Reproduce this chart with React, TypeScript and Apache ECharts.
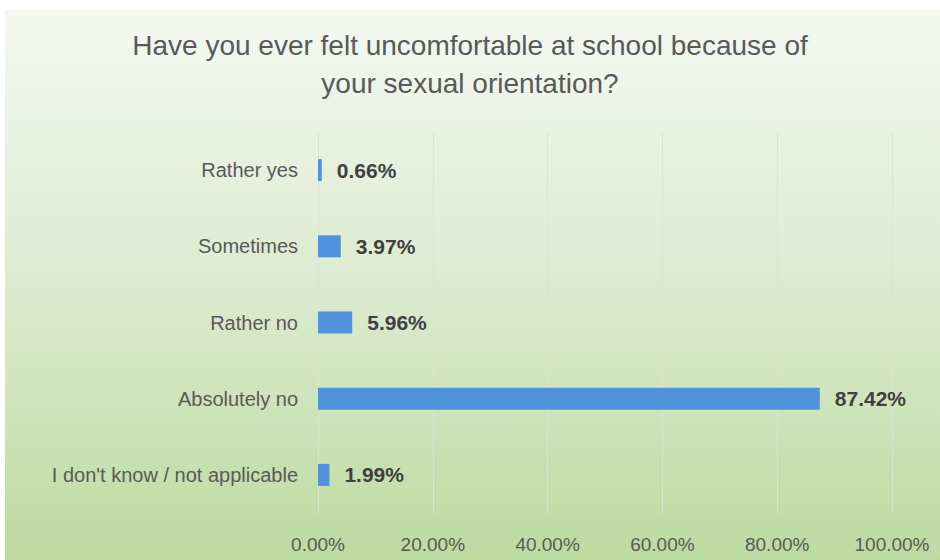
import React, { useEffect, useRef } from "react";
import * as echarts from "echarts";

const categories = [
  "Rather yes",
  "Sometimes",
  "Rather no",
  "Absolutely no",
  "I don't know / not applicable",
];
const values = [0.66, 3.97, 5.96, 87.42, 1.99];
const titleText = "Have you ever felt uncomfortable at school because of\nyour sexual orientation?";

export default function App() {
  const ref = useRef<HTMLDivElement>(null);
  useEffect(() => {
    if (!ref.current) return;
    const chart = echarts.init(ref.current, null, { renderer: "svg" });
    chart.setOption({
      animation: false,
      graphic: [
        {
          type: "rect",
          z: -10,
          silent: true,
          shape: { x: 5, y: 10, width: 935, height: 550 },
          style: {
            fill: new echarts.graphic.LinearGradient(0, 0, 0, 1, [
              { offset: 0, color: "#f5f8f1" },
              { offset: 0.5, color: "#dcebcf" },
              { offset: 1, color: "#bcdaa0" },
            ]),
          },
        },
      ],
      title: {
        text: titleText,
        left: "center",
        top: 21,
        textStyle: {
          fontFamily: "Liberation Sans",
          fontWeight: "normal",
          fontSize: 28,
          lineHeight: 38,
          color: "#595959",
        },
      },
      grid: { left: 318, right: 48, top: 132, bottom: 47 },
      xAxis: {
        type: "value",
        min: 0,
        max: 100,
        interval: 20,
        axisLine: { show: false },
        axisTick: { show: false },
        splitLine: { lineStyle: { color: "rgba(220,226,214,0.9)", width: 1 } },
        axisLabel: {
          formatter: (v: number) => v.toFixed(2) + "%",
          color: "#595959",
          fontFamily: "Liberation Sans",
          fontSize: 19,
          margin: 22,
        },
      },
      yAxis: {
        type: "category",
        data: categories,
        inverse: true,
        axisLine: { show: true, lineStyle: { color: "rgba(220,226,214,0.9)" } },
        axisTick: { show: false },
        axisLabel: {
          color: "#595959",
          fontFamily: "Liberation Sans",
          fontSize: 20,
          margin: 20,
        },
      },
      series: [
        {
          type: "bar",
          data: values,
          barWidth: 22,
          itemStyle: { color: "#5192dc" },
          label: {
            show: true,
            position: "right",
            distance: 15,
            formatter: (p: any) => p.value.toFixed(2) + "%",
            color: "#404040",
            fontFamily: "Liberation Sans",
            fontWeight: "bold",
            fontSize: 21,
          },
        },
      ],
    });
    return () => chart.dispose();
  }, []);
  return <div ref={ref} style={{ width: 940, height: 560, position: "absolute", left: 0, top: 0 }} />;
}
